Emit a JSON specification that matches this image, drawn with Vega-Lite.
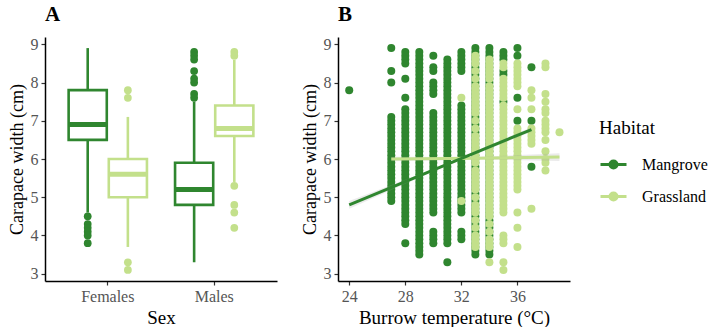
{
"$schema":"https://vega.github.io/schema/vega-lite/v6.json",
"background":"white",
"padding":{"left":8,"top":4,"right":0,"bottom":0},
"spacing":24,
"config":{
"font":"Liberation Serif",
"view":{"stroke":null},
"axis":{"grid":false,"domainColor":"black","domainWidth":1.5,"tickColor":"#333333","tickWidth":1.2,"tickSize":4,"labelFont":"Liberation Serif","labelFontSize":16,"labelColor":"#555555","labelPadding":3,"titleFont":"Liberation Serif","titleFontSize":19,"titleFontWeight":"normal","titleColor":"black","titlePadding":4},
"legend":{"labelFont":"Liberation Serif","titleFont":"Liberation Serif","labelFontSize":16,"titleFontSize":19},
"title":{"font":"Liberation Serif","fontSize":21,"fontWeight":"bold","anchor":"start","frame":"group","color":"black","offset":11}
},
"datasets":{
"boxes":[
{"sex":"Females","habitat":"Mangrove","lo":4.6,"q1":6.5,"median":6.9,"q3":7.8,"hi":8.9},
{"sex":"Females","habitat":"Grassland","lo":3.7,"q1":5.0,"median":5.6,"q3":6.0,"hi":7.1},
{"sex":"Males","habitat":"Mangrove","lo":3.3,"q1":4.8,"median":5.2,"q3":5.9,"hi":7.5},
{"sex":"Males","habitat":"Grassland","lo":5.4,"q1":6.6,"median":6.8,"q3":7.4,"hi":8.6}
],
"outliers":[
{"sex":"Females","habitat":"Mangrove","cw":4.5},{"sex":"Females","habitat":"Mangrove","cw":4.3},{"sex":"Females","habitat":"Mangrove","cw":4.2},{"sex":"Females","habitat":"Mangrove","cw":4.1},{"sex":"Females","habitat":"Mangrove","cw":4.0},{"sex":"Females","habitat":"Mangrove","cw":3.8},
{"sex":"Females","habitat":"Grassland","cw":7.8},{"sex":"Females","habitat":"Grassland","cw":7.6},{"sex":"Females","habitat":"Grassland","cw":3.3},{"sex":"Females","habitat":"Grassland","cw":3.1},
{"sex":"Males","habitat":"Mangrove","cw":8.8},{"sex":"Males","habitat":"Mangrove","cw":8.7},{"sex":"Males","habitat":"Mangrove","cw":8.6},{"sex":"Males","habitat":"Mangrove","cw":8.3},{"sex":"Males","habitat":"Mangrove","cw":8.1},{"sex":"Males","habitat":"Mangrove","cw":8.0},{"sex":"Males","habitat":"Mangrove","cw":7.7},{"sex":"Males","habitat":"Mangrove","cw":7.6},
{"sex":"Males","habitat":"Grassland","cw":8.8},{"sex":"Males","habitat":"Grassland","cw":8.7},{"sex":"Males","habitat":"Grassland","cw":5.3},{"sex":"Males","habitat":"Grassland","cw":4.8},{"sex":"Males","habitat":"Grassland","cw":4.6},{"sex":"Males","habitat":"Grassland","cw":4.2}
],
"fits":[
{"habitat":"Mangrove","temp":24,"fit":4.8,"lo":4.7,"hi":4.9},
{"habitat":"Mangrove","temp":30.5,"fit":5.785,"lo":5.76,"hi":5.81},
{"habitat":"Mangrove","temp":37,"fit":6.77,"lo":6.71,"hi":6.83},
{"habitat":"Grassland","temp":27,"fit":6.0,"lo":5.94,"hi":6.06},
{"habitat":"Grassland","temp":33,"fit":6.02,"lo":5.99,"hi":6.05},
{"habitat":"Grassland","temp":39,"fit":6.05,"lo":5.95,"hi":6.15}
],
"points":[
{"temp":24,"cw":7.8,"habitat":"Mangrove"},
{"temp":27,"cw":8.9,"habitat":"Mangrove"},{"temp":27,"cw":8.3,"habitat":"Mangrove"},{"temp":27,"cw":8.0,"habitat":"Mangrove"},{"temp":27,"cw":7.1,"habitat":"Mangrove"},{"temp":27,"cw":7.0,"habitat":"Mangrove"},{"temp":27,"cw":6.9,"habitat":"Mangrove"},{"temp":27,"cw":6.8,"habitat":"Mangrove"},{"temp":27,"cw":6.7,"habitat":"Mangrove"},{"temp":27,"cw":6.6,"habitat":"Mangrove"},{"temp":27,"cw":6.5,"habitat":"Mangrove"},{"temp":27,"cw":6.4,"habitat":"Mangrove"},{"temp":27,"cw":6.3,"habitat":"Mangrove"},{"temp":27,"cw":6.2,"habitat":"Mangrove"},{"temp":27,"cw":6.1,"habitat":"Mangrove"},{"temp":27,"cw":6.0,"habitat":"Mangrove"},{"temp":27,"cw":5.9,"habitat":"Mangrove"},{"temp":27,"cw":5.8,"habitat":"Mangrove"},{"temp":27,"cw":5.7,"habitat":"Mangrove"},{"temp":27,"cw":5.6,"habitat":"Mangrove"},{"temp":27,"cw":5.5,"habitat":"Mangrove"},{"temp":27,"cw":5.4,"habitat":"Mangrove"},{"temp":27,"cw":5.3,"habitat":"Mangrove"},{"temp":27,"cw":5.2,"habitat":"Mangrove"},{"temp":27,"cw":5.1,"habitat":"Mangrove"},{"temp":27,"cw":5.0,"habitat":"Mangrove"},{"temp":27,"cw":4.9,"habitat":"Mangrove"},
{"temp":28,"cw":8.8,"habitat":"Mangrove"},{"temp":28,"cw":8.7,"habitat":"Mangrove"},{"temp":28,"cw":8.6,"habitat":"Mangrove"},{"temp":28,"cw":8.5,"habitat":"Mangrove"},{"temp":28,"cw":8.1,"habitat":"Mangrove"},{"temp":28,"cw":7.6,"habitat":"Mangrove"},{"temp":28,"cw":7.3,"habitat":"Mangrove"},{"temp":28,"cw":7.2,"habitat":"Mangrove"},{"temp":28,"cw":7.1,"habitat":"Mangrove"},{"temp":28,"cw":7.0,"habitat":"Mangrove"},{"temp":28,"cw":6.9,"habitat":"Mangrove"},{"temp":28,"cw":6.8,"habitat":"Mangrove"},{"temp":28,"cw":6.7,"habitat":"Mangrove"},{"temp":28,"cw":6.6,"habitat":"Mangrove"},{"temp":28,"cw":6.5,"habitat":"Mangrove"},{"temp":28,"cw":6.4,"habitat":"Mangrove"},{"temp":28,"cw":6.3,"habitat":"Mangrove"},{"temp":28,"cw":6.2,"habitat":"Mangrove"},{"temp":28,"cw":6.1,"habitat":"Mangrove"},{"temp":28,"cw":6.0,"habitat":"Mangrove"},{"temp":28,"cw":5.9,"habitat":"Mangrove"},{"temp":28,"cw":5.8,"habitat":"Mangrove"},{"temp":28,"cw":5.7,"habitat":"Mangrove"},{"temp":28,"cw":5.6,"habitat":"Mangrove"},{"temp":28,"cw":5.5,"habitat":"Mangrove"},{"temp":28,"cw":5.4,"habitat":"Mangrove"},{"temp":28,"cw":5.3,"habitat":"Mangrove"},{"temp":28,"cw":5.2,"habitat":"Mangrove"},{"temp":28,"cw":5.1,"habitat":"Mangrove"},{"temp":28,"cw":5.0,"habitat":"Mangrove"},{"temp":28,"cw":4.9,"habitat":"Mangrove"},{"temp":28,"cw":4.8,"habitat":"Mangrove"},{"temp":28,"cw":4.7,"habitat":"Mangrove"},{"temp":28,"cw":4.6,"habitat":"Mangrove"},{"temp":28,"cw":4.5,"habitat":"Mangrove"},{"temp":28,"cw":4.4,"habitat":"Mangrove"},{"temp":28,"cw":4.3,"habitat":"Mangrove"},{"temp":28,"cw":3.8,"habitat":"Mangrove"},
{"temp":29,"cw":8.8,"habitat":"Mangrove"},{"temp":29,"cw":8.7,"habitat":"Mangrove"},{"temp":29,"cw":8.6,"habitat":"Mangrove"},{"temp":29,"cw":8.5,"habitat":"Mangrove"},{"temp":29,"cw":8.4,"habitat":"Mangrove"},{"temp":29,"cw":8.3,"habitat":"Mangrove"},{"temp":29,"cw":8.2,"habitat":"Mangrove"},{"temp":29,"cw":8.1,"habitat":"Mangrove"},{"temp":29,"cw":8.0,"habitat":"Mangrove"},{"temp":29,"cw":7.9,"habitat":"Mangrove"},{"temp":29,"cw":7.8,"habitat":"Mangrove"},{"temp":29,"cw":7.7,"habitat":"Mangrove"},{"temp":29,"cw":7.6,"habitat":"Mangrove"},{"temp":29,"cw":7.5,"habitat":"Mangrove"},{"temp":29,"cw":7.4,"habitat":"Mangrove"},{"temp":29,"cw":7.3,"habitat":"Mangrove"},{"temp":29,"cw":7.2,"habitat":"Mangrove"},{"temp":29,"cw":7.1,"habitat":"Mangrove"},{"temp":29,"cw":7.0,"habitat":"Mangrove"},{"temp":29,"cw":6.9,"habitat":"Mangrove"},{"temp":29,"cw":6.8,"habitat":"Mangrove"},{"temp":29,"cw":6.7,"habitat":"Mangrove"},{"temp":29,"cw":6.6,"habitat":"Mangrove"},{"temp":29,"cw":6.5,"habitat":"Mangrove"},{"temp":29,"cw":6.4,"habitat":"Mangrove"},{"temp":29,"cw":6.3,"habitat":"Mangrove"},{"temp":29,"cw":6.2,"habitat":"Mangrove"},{"temp":29,"cw":6.1,"habitat":"Mangrove"},{"temp":29,"cw":6.0,"habitat":"Mangrove"},{"temp":29,"cw":5.9,"habitat":"Mangrove"},{"temp":29,"cw":5.8,"habitat":"Mangrove"},{"temp":29,"cw":5.7,"habitat":"Mangrove"},{"temp":29,"cw":5.6,"habitat":"Mangrove"},{"temp":29,"cw":5.5,"habitat":"Mangrove"},{"temp":29,"cw":5.4,"habitat":"Mangrove"},{"temp":29,"cw":5.3,"habitat":"Mangrove"},{"temp":29,"cw":5.2,"habitat":"Mangrove"},{"temp":29,"cw":5.1,"habitat":"Mangrove"},{"temp":29,"cw":5.0,"habitat":"Mangrove"},{"temp":29,"cw":4.9,"habitat":"Mangrove"},{"temp":29,"cw":4.8,"habitat":"Mangrove"},{"temp":29,"cw":4.7,"habitat":"Mangrove"},{"temp":29,"cw":4.6,"habitat":"Mangrove"},{"temp":29,"cw":4.5,"habitat":"Mangrove"},{"temp":29,"cw":4.4,"habitat":"Mangrove"},{"temp":29,"cw":4.3,"habitat":"Mangrove"},{"temp":29,"cw":4.2,"habitat":"Mangrove"},{"temp":29,"cw":4.1,"habitat":"Mangrove"},{"temp":29,"cw":4.0,"habitat":"Mangrove"},{"temp":29,"cw":3.9,"habitat":"Mangrove"},{"temp":29,"cw":3.8,"habitat":"Mangrove"},{"temp":29,"cw":3.7,"habitat":"Mangrove"},{"temp":29,"cw":3.6,"habitat":"Mangrove"},{"temp":29,"cw":3.5,"habitat":"Mangrove"},
{"temp":30,"cw":8.7,"habitat":"Mangrove"},{"temp":30,"cw":8.4,"habitat":"Mangrove"},{"temp":30,"cw":8.3,"habitat":"Mangrove"},{"temp":30,"cw":8.0,"habitat":"Mangrove"},{"temp":30,"cw":7.9,"habitat":"Mangrove"},{"temp":30,"cw":7.8,"habitat":"Mangrove"},{"temp":30,"cw":7.7,"habitat":"Mangrove"},{"temp":30,"cw":7.2,"habitat":"Mangrove"},{"temp":30,"cw":7.1,"habitat":"Mangrove"},{"temp":30,"cw":7.0,"habitat":"Mangrove"},{"temp":30,"cw":6.9,"habitat":"Mangrove"},{"temp":30,"cw":6.8,"habitat":"Mangrove"},{"temp":30,"cw":6.7,"habitat":"Mangrove"},{"temp":30,"cw":6.6,"habitat":"Mangrove"},{"temp":30,"cw":6.5,"habitat":"Mangrove"},{"temp":30,"cw":6.4,"habitat":"Mangrove"},{"temp":30,"cw":6.3,"habitat":"Mangrove"},{"temp":30,"cw":6.2,"habitat":"Mangrove"},{"temp":30,"cw":6.1,"habitat":"Mangrove"},{"temp":30,"cw":6.0,"habitat":"Mangrove"},{"temp":30,"cw":5.9,"habitat":"Mangrove"},{"temp":30,"cw":5.8,"habitat":"Mangrove"},{"temp":30,"cw":5.7,"habitat":"Mangrove"},{"temp":30,"cw":5.6,"habitat":"Mangrove"},{"temp":30,"cw":5.5,"habitat":"Mangrove"},{"temp":30,"cw":5.4,"habitat":"Mangrove"},{"temp":30,"cw":5.3,"habitat":"Mangrove"},{"temp":30,"cw":5.2,"habitat":"Mangrove"},{"temp":30,"cw":5.1,"habitat":"Mangrove"},{"temp":30,"cw":5.0,"habitat":"Mangrove"},{"temp":30,"cw":4.9,"habitat":"Mangrove"},{"temp":30,"cw":4.8,"habitat":"Mangrove"},{"temp":30,"cw":4.7,"habitat":"Mangrove"},{"temp":30,"cw":4.6,"habitat":"Mangrove"},{"temp":30,"cw":4.1,"habitat":"Mangrove"},{"temp":30,"cw":4.0,"habitat":"Mangrove"},{"temp":30,"cw":3.9,"habitat":"Mangrove"},{"temp":30,"cw":3.8,"habitat":"Mangrove"},
{"temp":31,"cw":8.6,"habitat":"Mangrove"},{"temp":31,"cw":8.5,"habitat":"Mangrove"},{"temp":31,"cw":8.4,"habitat":"Mangrove"},{"temp":31,"cw":8.3,"habitat":"Mangrove"},{"temp":31,"cw":8.2,"habitat":"Mangrove"},{"temp":31,"cw":8.1,"habitat":"Mangrove"},{"temp":31,"cw":8.0,"habitat":"Mangrove"},{"temp":31,"cw":7.9,"habitat":"Mangrove"},{"temp":31,"cw":7.8,"habitat":"Mangrove"},{"temp":31,"cw":7.7,"habitat":"Mangrove"},{"temp":31,"cw":7.6,"habitat":"Mangrove"},{"temp":31,"cw":7.5,"habitat":"Mangrove"},{"temp":31,"cw":7.4,"habitat":"Mangrove"},{"temp":31,"cw":7.3,"habitat":"Mangrove"},{"temp":31,"cw":7.2,"habitat":"Mangrove"},{"temp":31,"cw":7.1,"habitat":"Mangrove"},{"temp":31,"cw":7.0,"habitat":"Mangrove"},{"temp":31,"cw":6.9,"habitat":"Mangrove"},{"temp":31,"cw":6.8,"habitat":"Mangrove"},{"temp":31,"cw":6.7,"habitat":"Mangrove"},{"temp":31,"cw":6.6,"habitat":"Mangrove"},{"temp":31,"cw":6.5,"habitat":"Mangrove"},{"temp":31,"cw":6.4,"habitat":"Mangrove"},{"temp":31,"cw":6.3,"habitat":"Mangrove"},{"temp":31,"cw":6.2,"habitat":"Mangrove"},{"temp":31,"cw":6.1,"habitat":"Mangrove"},{"temp":31,"cw":6.0,"habitat":"Mangrove"},{"temp":31,"cw":5.9,"habitat":"Mangrove"},{"temp":31,"cw":5.8,"habitat":"Mangrove"},{"temp":31,"cw":5.7,"habitat":"Mangrove"},{"temp":31,"cw":5.6,"habitat":"Mangrove"},{"temp":31,"cw":5.5,"habitat":"Mangrove"},{"temp":31,"cw":5.4,"habitat":"Mangrove"},{"temp":31,"cw":5.3,"habitat":"Mangrove"},{"temp":31,"cw":5.2,"habitat":"Mangrove"},{"temp":31,"cw":5.1,"habitat":"Mangrove"},{"temp":31,"cw":5.0,"habitat":"Mangrove"},{"temp":31,"cw":4.9,"habitat":"Mangrove"},{"temp":31,"cw":4.8,"habitat":"Mangrove"},{"temp":31,"cw":4.7,"habitat":"Mangrove"},{"temp":31,"cw":4.6,"habitat":"Mangrove"},{"temp":31,"cw":4.5,"habitat":"Mangrove"},{"temp":31,"cw":4.4,"habitat":"Mangrove"},{"temp":31,"cw":4.3,"habitat":"Mangrove"},{"temp":31,"cw":4.2,"habitat":"Mangrove"},{"temp":31,"cw":4.1,"habitat":"Mangrove"},{"temp":31,"cw":4.0,"habitat":"Mangrove"},{"temp":31,"cw":3.9,"habitat":"Mangrove"},{"temp":31,"cw":3.8,"habitat":"Mangrove"},{"temp":31,"cw":3.3,"habitat":"Mangrove"},
{"temp":32,"cw":8.8,"habitat":"Mangrove"},{"temp":32,"cw":8.7,"habitat":"Mangrove"},{"temp":32,"cw":8.6,"habitat":"Mangrove"},{"temp":32,"cw":8.5,"habitat":"Mangrove"},{"temp":32,"cw":8.4,"habitat":"Mangrove"},{"temp":32,"cw":8.3,"habitat":"Mangrove"},{"temp":32,"cw":7.4,"habitat":"Mangrove"},{"temp":32,"cw":7.3,"habitat":"Mangrove"},{"temp":32,"cw":7.2,"habitat":"Mangrove"},{"temp":32,"cw":7.1,"habitat":"Mangrove"},{"temp":32,"cw":7.0,"habitat":"Mangrove"},{"temp":32,"cw":6.9,"habitat":"Mangrove"},{"temp":32,"cw":6.8,"habitat":"Mangrove"},{"temp":32,"cw":6.7,"habitat":"Mangrove"},{"temp":32,"cw":6.6,"habitat":"Mangrove"},{"temp":32,"cw":6.5,"habitat":"Mangrove"},{"temp":32,"cw":6.4,"habitat":"Mangrove"},{"temp":32,"cw":6.3,"habitat":"Mangrove"},{"temp":32,"cw":6.2,"habitat":"Mangrove"},{"temp":32,"cw":6.1,"habitat":"Mangrove"},{"temp":32,"cw":6.0,"habitat":"Mangrove"},{"temp":32,"cw":5.9,"habitat":"Mangrove"},{"temp":32,"cw":5.8,"habitat":"Mangrove"},{"temp":32,"cw":5.7,"habitat":"Mangrove"},{"temp":32,"cw":5.6,"habitat":"Mangrove"},{"temp":32,"cw":5.5,"habitat":"Mangrove"},{"temp":32,"cw":5.4,"habitat":"Mangrove"},{"temp":32,"cw":5.3,"habitat":"Mangrove"},{"temp":32,"cw":5.2,"habitat":"Mangrove"},{"temp":32,"cw":5.1,"habitat":"Mangrove"},{"temp":32,"cw":5.0,"habitat":"Mangrove"},{"temp":32,"cw":4.9,"habitat":"Mangrove"},{"temp":32,"cw":4.8,"habitat":"Mangrove"},{"temp":32,"cw":4.7,"habitat":"Mangrove"},{"temp":32,"cw":4.6,"habitat":"Mangrove"},{"temp":32,"cw":4.1,"habitat":"Mangrove"},{"temp":32,"cw":4.0,"habitat":"Mangrove"},{"temp":32,"cw":3.9,"habitat":"Mangrove"},
{"temp":33,"cw":8.9,"habitat":"Mangrove"},{"temp":33,"cw":8.8,"habitat":"Mangrove"},{"temp":33,"cw":8.7,"habitat":"Mangrove"},{"temp":33,"cw":8.6,"habitat":"Mangrove"},{"temp":33,"cw":8.5,"habitat":"Mangrove"},{"temp":33,"cw":8.4,"habitat":"Mangrove"},{"temp":33,"cw":8.3,"habitat":"Mangrove"},{"temp":33,"cw":8.2,"habitat":"Mangrove"},{"temp":33,"cw":8.1,"habitat":"Mangrove"},{"temp":33,"cw":8.0,"habitat":"Mangrove"},{"temp":33,"cw":7.9,"habitat":"Mangrove"},{"temp":33,"cw":7.8,"habitat":"Mangrove"},{"temp":33,"cw":7.7,"habitat":"Mangrove"},{"temp":33,"cw":7.6,"habitat":"Mangrove"},{"temp":33,"cw":7.5,"habitat":"Mangrove"},{"temp":33,"cw":7.4,"habitat":"Mangrove"},{"temp":33,"cw":7.3,"habitat":"Mangrove"},{"temp":33,"cw":7.2,"habitat":"Mangrove"},{"temp":33,"cw":7.1,"habitat":"Mangrove"},{"temp":33,"cw":7.0,"habitat":"Mangrove"},{"temp":33,"cw":6.9,"habitat":"Mangrove"},{"temp":33,"cw":6.8,"habitat":"Mangrove"},{"temp":33,"cw":6.7,"habitat":"Mangrove"},{"temp":33,"cw":6.6,"habitat":"Mangrove"},{"temp":33,"cw":6.5,"habitat":"Mangrove"},{"temp":33,"cw":6.4,"habitat":"Mangrove"},{"temp":33,"cw":6.3,"habitat":"Mangrove"},{"temp":33,"cw":6.2,"habitat":"Mangrove"},{"temp":33,"cw":6.1,"habitat":"Mangrove"},{"temp":33,"cw":6.0,"habitat":"Mangrove"},{"temp":33,"cw":5.9,"habitat":"Mangrove"},{"temp":33,"cw":5.8,"habitat":"Mangrove"},{"temp":33,"cw":5.7,"habitat":"Mangrove"},{"temp":33,"cw":5.6,"habitat":"Mangrove"},{"temp":33,"cw":5.5,"habitat":"Mangrove"},{"temp":33,"cw":5.4,"habitat":"Mangrove"},{"temp":33,"cw":5.3,"habitat":"Mangrove"},{"temp":33,"cw":5.2,"habitat":"Mangrove"},{"temp":33,"cw":5.1,"habitat":"Mangrove"},{"temp":33,"cw":5.0,"habitat":"Mangrove"},{"temp":33,"cw":4.9,"habitat":"Mangrove"},{"temp":33,"cw":4.8,"habitat":"Mangrove"},{"temp":33,"cw":4.7,"habitat":"Mangrove"},{"temp":33,"cw":4.6,"habitat":"Mangrove"},{"temp":33,"cw":4.5,"habitat":"Mangrove"},{"temp":33,"cw":4.4,"habitat":"Mangrove"},{"temp":33,"cw":4.3,"habitat":"Mangrove"},{"temp":33,"cw":4.2,"habitat":"Mangrove"},{"temp":33,"cw":4.1,"habitat":"Mangrove"},{"temp":33,"cw":4.0,"habitat":"Mangrove"},{"temp":33,"cw":3.9,"habitat":"Mangrove"},{"temp":33,"cw":3.8,"habitat":"Mangrove"},{"temp":33,"cw":3.7,"habitat":"Mangrove"},{"temp":33,"cw":3.6,"habitat":"Mangrove"},{"temp":33,"cw":3.5,"habitat":"Mangrove"},
{"temp":34,"cw":8.9,"habitat":"Mangrove"},{"temp":34,"cw":8.8,"habitat":"Mangrove"},{"temp":34,"cw":8.7,"habitat":"Mangrove"},{"temp":34,"cw":8.6,"habitat":"Mangrove"},{"temp":34,"cw":8.5,"habitat":"Mangrove"},{"temp":34,"cw":8.4,"habitat":"Mangrove"},{"temp":34,"cw":8.3,"habitat":"Mangrove"},{"temp":34,"cw":8.2,"habitat":"Mangrove"},{"temp":34,"cw":8.1,"habitat":"Mangrove"},{"temp":34,"cw":8.0,"habitat":"Mangrove"},{"temp":34,"cw":7.9,"habitat":"Mangrove"},{"temp":34,"cw":7.8,"habitat":"Mangrove"},{"temp":34,"cw":7.7,"habitat":"Mangrove"},{"temp":34,"cw":7.6,"habitat":"Mangrove"},{"temp":34,"cw":7.5,"habitat":"Mangrove"},{"temp":34,"cw":7.4,"habitat":"Mangrove"},{"temp":34,"cw":7.3,"habitat":"Mangrove"},{"temp":34,"cw":7.2,"habitat":"Mangrove"},{"temp":34,"cw":7.1,"habitat":"Mangrove"},{"temp":34,"cw":7.0,"habitat":"Mangrove"},{"temp":34,"cw":6.9,"habitat":"Mangrove"},{"temp":34,"cw":6.8,"habitat":"Mangrove"},{"temp":34,"cw":6.7,"habitat":"Mangrove"},{"temp":34,"cw":6.6,"habitat":"Mangrove"},{"temp":34,"cw":6.5,"habitat":"Mangrove"},{"temp":34,"cw":6.4,"habitat":"Mangrove"},{"temp":34,"cw":6.3,"habitat":"Mangrove"},{"temp":34,"cw":6.2,"habitat":"Mangrove"},{"temp":34,"cw":6.1,"habitat":"Mangrove"},{"temp":34,"cw":6.0,"habitat":"Mangrove"},{"temp":34,"cw":5.9,"habitat":"Mangrove"},{"temp":34,"cw":5.8,"habitat":"Mangrove"},{"temp":34,"cw":5.7,"habitat":"Mangrove"},{"temp":34,"cw":5.6,"habitat":"Mangrove"},{"temp":34,"cw":5.5,"habitat":"Mangrove"},{"temp":34,"cw":5.4,"habitat":"Mangrove"},{"temp":34,"cw":5.3,"habitat":"Mangrove"},{"temp":34,"cw":5.2,"habitat":"Mangrove"},{"temp":34,"cw":5.1,"habitat":"Mangrove"},{"temp":34,"cw":5.0,"habitat":"Mangrove"},{"temp":34,"cw":4.9,"habitat":"Mangrove"},{"temp":34,"cw":4.8,"habitat":"Mangrove"},{"temp":34,"cw":4.7,"habitat":"Mangrove"},{"temp":34,"cw":4.6,"habitat":"Mangrove"},{"temp":34,"cw":4.5,"habitat":"Mangrove"},{"temp":34,"cw":4.4,"habitat":"Mangrove"},{"temp":34,"cw":4.3,"habitat":"Mangrove"},{"temp":34,"cw":4.2,"habitat":"Mangrove"},{"temp":34,"cw":4.1,"habitat":"Mangrove"},{"temp":34,"cw":4.0,"habitat":"Mangrove"},{"temp":34,"cw":3.9,"habitat":"Mangrove"},{"temp":34,"cw":3.8,"habitat":"Mangrove"},{"temp":34,"cw":3.7,"habitat":"Mangrove"},{"temp":34,"cw":3.6,"habitat":"Mangrove"},{"temp":34,"cw":3.5,"habitat":"Mangrove"},
{"temp":35,"cw":8.8,"habitat":"Mangrove"},{"temp":35,"cw":8.7,"habitat":"Mangrove"},{"temp":35,"cw":8.6,"habitat":"Mangrove"},{"temp":35,"cw":8.3,"habitat":"Mangrove"},{"temp":35,"cw":8.2,"habitat":"Mangrove"},{"temp":35,"cw":7.5,"habitat":"Mangrove"},
{"temp":36,"cw":8.9,"habitat":"Mangrove"},{"temp":36,"cw":8.7,"habitat":"Mangrove"},{"temp":36,"cw":7.6,"habitat":"Mangrove"},{"temp":36,"cw":7.0,"habitat":"Mangrove"},
{"temp":37,"cw":8.4,"habitat":"Mangrove"},{"temp":37,"cw":7.0,"habitat":"Mangrove"},{"temp":37,"cw":5.8,"habitat":"Mangrove"},
{"temp":32,"cw":7.6,"habitat":"Grassland"},{"temp":32,"cw":4.9,"habitat":"Grassland"},
{"temp":33,"cw":8.7,"habitat":"Grassland"},{"temp":33,"cw":8.6,"habitat":"Grassland"},{"temp":33,"cw":8.5,"habitat":"Grassland"},{"temp":33,"cw":8.3,"habitat":"Grassland"},{"temp":33,"cw":8.1,"habitat":"Grassland"},{"temp":33,"cw":7.9,"habitat":"Grassland"},{"temp":33,"cw":7.8,"habitat":"Grassland"},{"temp":33,"cw":7.7,"habitat":"Grassland"},{"temp":33,"cw":7.6,"habitat":"Grassland"},{"temp":33,"cw":7.5,"habitat":"Grassland"},{"temp":33,"cw":7.4,"habitat":"Grassland"},{"temp":33,"cw":7.3,"habitat":"Grassland"},{"temp":33,"cw":7.2,"habitat":"Grassland"},{"temp":33,"cw":7.0,"habitat":"Grassland"},{"temp":33,"cw":6.8,"habitat":"Grassland"},{"temp":33,"cw":6.6,"habitat":"Grassland"},{"temp":33,"cw":6.5,"habitat":"Grassland"},{"temp":33,"cw":6.4,"habitat":"Grassland"},{"temp":33,"cw":6.3,"habitat":"Grassland"},{"temp":33,"cw":6.2,"habitat":"Grassland"},{"temp":33,"cw":6.1,"habitat":"Grassland"},{"temp":33,"cw":6.0,"habitat":"Grassland"},{"temp":33,"cw":5.9,"habitat":"Grassland"},{"temp":33,"cw":5.7,"habitat":"Grassland"},{"temp":33,"cw":5.6,"habitat":"Grassland"},{"temp":33,"cw":5.5,"habitat":"Grassland"},{"temp":33,"cw":5.4,"habitat":"Grassland"},{"temp":33,"cw":5.3,"habitat":"Grassland"},{"temp":33,"cw":5.2,"habitat":"Grassland"},{"temp":33,"cw":5.0,"habitat":"Grassland"},{"temp":33,"cw":4.8,"habitat":"Grassland"},{"temp":33,"cw":4.7,"habitat":"Grassland"},{"temp":33,"cw":4.6,"habitat":"Grassland"},{"temp":33,"cw":4.4,"habitat":"Grassland"},{"temp":33,"cw":4.2,"habitat":"Grassland"},{"temp":33,"cw":4.0,"habitat":"Grassland"},{"temp":33,"cw":3.9,"habitat":"Grassland"},{"temp":33,"cw":3.8,"habitat":"Grassland"},{"temp":33,"cw":3.7,"habitat":"Grassland"},
{"temp":34,"cw":8.6,"habitat":"Grassland"},{"temp":34,"cw":8.5,"habitat":"Grassland"},{"temp":34,"cw":8.4,"habitat":"Grassland"},{"temp":34,"cw":8.3,"habitat":"Grassland"},{"temp":34,"cw":8.2,"habitat":"Grassland"},{"temp":34,"cw":8.1,"habitat":"Grassland"},{"temp":34,"cw":7.9,"habitat":"Grassland"},{"temp":34,"cw":7.8,"habitat":"Grassland"},{"temp":34,"cw":7.7,"habitat":"Grassland"},{"temp":34,"cw":7.6,"habitat":"Grassland"},{"temp":34,"cw":7.5,"habitat":"Grassland"},{"temp":34,"cw":7.4,"habitat":"Grassland"},{"temp":34,"cw":7.3,"habitat":"Grassland"},{"temp":34,"cw":7.2,"habitat":"Grassland"},{"temp":34,"cw":7.1,"habitat":"Grassland"},{"temp":34,"cw":7.0,"habitat":"Grassland"},{"temp":34,"cw":6.9,"habitat":"Grassland"},{"temp":34,"cw":6.8,"habitat":"Grassland"},{"temp":34,"cw":6.7,"habitat":"Grassland"},{"temp":34,"cw":6.6,"habitat":"Grassland"},{"temp":34,"cw":6.5,"habitat":"Grassland"},{"temp":34,"cw":6.4,"habitat":"Grassland"},{"temp":34,"cw":6.3,"habitat":"Grassland"},{"temp":34,"cw":6.2,"habitat":"Grassland"},{"temp":34,"cw":6.1,"habitat":"Grassland"},{"temp":34,"cw":6.0,"habitat":"Grassland"},{"temp":34,"cw":5.9,"habitat":"Grassland"},{"temp":34,"cw":5.8,"habitat":"Grassland"},{"temp":34,"cw":5.7,"habitat":"Grassland"},{"temp":34,"cw":5.6,"habitat":"Grassland"},{"temp":34,"cw":5.5,"habitat":"Grassland"},{"temp":34,"cw":5.4,"habitat":"Grassland"},{"temp":34,"cw":5.3,"habitat":"Grassland"},{"temp":34,"cw":5.2,"habitat":"Grassland"},{"temp":34,"cw":5.1,"habitat":"Grassland"},{"temp":34,"cw":5.0,"habitat":"Grassland"},{"temp":34,"cw":4.9,"habitat":"Grassland"},{"temp":34,"cw":4.8,"habitat":"Grassland"},{"temp":34,"cw":4.7,"habitat":"Grassland"},{"temp":34,"cw":4.6,"habitat":"Grassland"},{"temp":34,"cw":4.5,"habitat":"Grassland"},{"temp":34,"cw":4.3,"habitat":"Grassland"},{"temp":34,"cw":4.1,"habitat":"Grassland"},{"temp":34,"cw":3.9,"habitat":"Grassland"},{"temp":34,"cw":3.8,"habitat":"Grassland"},{"temp":34,"cw":3.7,"habitat":"Grassland"},{"temp":34,"cw":3.3,"habitat":"Grassland"},
{"temp":35,"cw":8.5,"habitat":"Grassland"},{"temp":35,"cw":8.4,"habitat":"Grassland"},{"temp":35,"cw":8.1,"habitat":"Grassland"},{"temp":35,"cw":8.0,"habitat":"Grassland"},{"temp":35,"cw":7.9,"habitat":"Grassland"},{"temp":35,"cw":7.8,"habitat":"Grassland"},{"temp":35,"cw":7.7,"habitat":"Grassland"},{"temp":35,"cw":7.6,"habitat":"Grassland"},{"temp":35,"cw":7.4,"habitat":"Grassland"},{"temp":35,"cw":7.3,"habitat":"Grassland"},{"temp":35,"cw":7.2,"habitat":"Grassland"},{"temp":35,"cw":7.1,"habitat":"Grassland"},{"temp":35,"cw":7.0,"habitat":"Grassland"},{"temp":35,"cw":6.9,"habitat":"Grassland"},{"temp":35,"cw":6.8,"habitat":"Grassland"},{"temp":35,"cw":6.7,"habitat":"Grassland"},{"temp":35,"cw":6.6,"habitat":"Grassland"},{"temp":35,"cw":6.5,"habitat":"Grassland"},{"temp":35,"cw":6.4,"habitat":"Grassland"},{"temp":35,"cw":6.3,"habitat":"Grassland"},{"temp":35,"cw":6.2,"habitat":"Grassland"},{"temp":35,"cw":6.1,"habitat":"Grassland"},{"temp":35,"cw":6.0,"habitat":"Grassland"},{"temp":35,"cw":5.9,"habitat":"Grassland"},{"temp":35,"cw":5.8,"habitat":"Grassland"},{"temp":35,"cw":5.7,"habitat":"Grassland"},{"temp":35,"cw":5.6,"habitat":"Grassland"},{"temp":35,"cw":5.5,"habitat":"Grassland"},{"temp":35,"cw":5.4,"habitat":"Grassland"},{"temp":35,"cw":5.3,"habitat":"Grassland"},{"temp":35,"cw":5.2,"habitat":"Grassland"},{"temp":35,"cw":5.1,"habitat":"Grassland"},{"temp":35,"cw":5.0,"habitat":"Grassland"},{"temp":35,"cw":4.9,"habitat":"Grassland"},{"temp":35,"cw":4.8,"habitat":"Grassland"},{"temp":35,"cw":4.7,"habitat":"Grassland"},{"temp":35,"cw":4.6,"habitat":"Grassland"},{"temp":35,"cw":4.0,"habitat":"Grassland"},{"temp":35,"cw":3.9,"habitat":"Grassland"},{"temp":35,"cw":3.8,"habitat":"Grassland"},{"temp":35,"cw":3.3,"habitat":"Grassland"},{"temp":35,"cw":3.1,"habitat":"Grassland"},
{"temp":36,"cw":8.5,"habitat":"Grassland"},{"temp":36,"cw":8.4,"habitat":"Grassland"},{"temp":36,"cw":8.3,"habitat":"Grassland"},{"temp":36,"cw":8.2,"habitat":"Grassland"},{"temp":36,"cw":8.1,"habitat":"Grassland"},{"temp":36,"cw":8.0,"habitat":"Grassland"},{"temp":36,"cw":7.9,"habitat":"Grassland"},{"temp":36,"cw":7.3,"habitat":"Grassland"},{"temp":36,"cw":6.8,"habitat":"Grassland"},{"temp":36,"cw":6.7,"habitat":"Grassland"},{"temp":36,"cw":6.6,"habitat":"Grassland"},{"temp":36,"cw":6.5,"habitat":"Grassland"},{"temp":36,"cw":6.4,"habitat":"Grassland"},{"temp":36,"cw":6.3,"habitat":"Grassland"},{"temp":36,"cw":6.2,"habitat":"Grassland"},{"temp":36,"cw":6.1,"habitat":"Grassland"},{"temp":36,"cw":6.0,"habitat":"Grassland"},{"temp":36,"cw":5.9,"habitat":"Grassland"},{"temp":36,"cw":5.8,"habitat":"Grassland"},{"temp":36,"cw":5.7,"habitat":"Grassland"},{"temp":36,"cw":5.6,"habitat":"Grassland"},{"temp":36,"cw":5.5,"habitat":"Grassland"},{"temp":36,"cw":5.4,"habitat":"Grassland"},{"temp":36,"cw":5.3,"habitat":"Grassland"},{"temp":36,"cw":5.2,"habitat":"Grassland"},{"temp":36,"cw":4.6,"habitat":"Grassland"},{"temp":36,"cw":4.2,"habitat":"Grassland"},{"temp":36,"cw":3.7,"habitat":"Grassland"},
{"temp":37,"cw":7.8,"habitat":"Grassland"},{"temp":37,"cw":7.6,"habitat":"Grassland"},{"temp":37,"cw":7.3,"habitat":"Grassland"},{"temp":37,"cw":6.8,"habitat":"Grassland"},{"temp":37,"cw":6.7,"habitat":"Grassland"},{"temp":37,"cw":6.6,"habitat":"Grassland"},{"temp":37,"cw":6.5,"habitat":"Grassland"},{"temp":37,"cw":6.4,"habitat":"Grassland"},{"temp":37,"cw":4.7,"habitat":"Grassland"},
{"temp":38,"cw":8.5,"habitat":"Grassland"},{"temp":38,"cw":8.4,"habitat":"Grassland"},{"temp":38,"cw":7.7,"habitat":"Grassland"},{"temp":38,"cw":7.5,"habitat":"Grassland"},{"temp":38,"cw":7.3,"habitat":"Grassland"},{"temp":38,"cw":7.2,"habitat":"Grassland"},{"temp":38,"cw":7.0,"habitat":"Grassland"},{"temp":38,"cw":6.9,"habitat":"Grassland"},{"temp":38,"cw":6.8,"habitat":"Grassland"},{"temp":38,"cw":6.7,"habitat":"Grassland"},{"temp":38,"cw":6.5,"habitat":"Grassland"},{"temp":38,"cw":6.2,"habitat":"Grassland"},{"temp":38,"cw":6.0,"habitat":"Grassland"},{"temp":38,"cw":5.9,"habitat":"Grassland"},{"temp":38,"cw":5.7,"habitat":"Grassland"},
{"temp":39,"cw":6.7,"habitat":"Grassland"}
]
},
"hconcat":[
{
"width":232,"height":244,
"title":{"text":"A"},
"encoding":{
"x":{"field":"sex","type":"nominal","scale":{"paddingInner":0,"paddingOuter":0.09},"axis":{"labelAngle":0,"title":"Sex","ticks":true}},
"xOffset":{"field":"habitat","type":"nominal","sort":["Mangrove","Grassland"],"scale":{"paddingInner":0.05,"paddingOuter":0.35}}
},
"layer":[
{"data":{"name":"boxes"},"mark":{"type":"rule","strokeWidth":2.6},
"encoding":{"y":{"field":"lo","type":"quantitative","scale":{"domain":[2.81,9.19],"nice":false,"zero":false},"axis":{"values":[3,4,5,6,7,8,9],"title":"Carapace width (cm)","titleFontSize":18}},"y2":{"field":"hi"},
"color":{"field":"habitat","type":"nominal","scale":{"domain":["Mangrove","Grassland"],"range":["#2f862f","#c3e08b"]},"legend":null}}},
{"data":{"name":"boxes"},"mark":{"type":"bar","fill":"white","strokeWidth":2.6,"width":{"band":1}},
"encoding":{"y":{"field":"q1","type":"quantitative"},"y2":{"field":"q3"},
"stroke":{"field":"habitat","type":"nominal","scale":{"domain":["Mangrove","Grassland"],"range":["#2f862f","#c3e08b"]},"legend":null}}},
{"data":{"name":"boxes"},"mark":{"type":"tick","thickness":5,"size":38,"opacity":1},
"encoding":{"y":{"field":"median","type":"quantitative"},
"color":{"field":"habitat","type":"nominal","legend":null}}},
{"data":{"name":"outliers"},"mark":{"type":"point","filled":true,"size":60,"opacity":1},
"encoding":{"y":{"field":"cw","type":"quantitative"},
"color":{"field":"habitat","type":"nominal","legend":null}}}
]
},
{
"width":232,"height":244,
"title":{"text":"B"},
"layer":[
{"data":{"name":"points"},"mark":{"type":"point","filled":true,"size":64,"opacity":1},
"encoding":{
"x":{"field":"temp","type":"quantitative","scale":{"domain":[23.2,39.75],"nice":false,"zero":false},"axis":{"values":[24,28,32,36],"title":"Burrow temperature (°C)"}},
"y":{"field":"cw","type":"quantitative","scale":{"domain":[2.81,9.19],"nice":false,"zero":false},"axis":{"values":[3,4,5,6,7,8,9],"title":"Carapace width (cm)","titleFontSize":18}},
"color":{"field":"habitat","type":"nominal","scale":{"domain":["Mangrove","Grassland"],"range":["#2f862f","#c3e08b"]},
"legend":{"title":"Habitat","orient":"none","legendX":261,"legendY":82,"titleFontSize":19,"titleFont":"Liberation Serif","titleFontWeight":"normal","titleColor":"black","titlePadding":12,"labelFontSize":16,"labelFont":"Liberation Serif","labelColor":"black","labelOffset":14,"symbolType":"M-1,0H1M-0.27,0A0.27,0.27,0,1,0,0.27,0A0.27,0.27,0,1,0,-0.27,0Z","symbolSize":676,"symbolStrokeWidth":3,"rowPadding":7,
"encode":{"labels":{"update":{"font":{"value":"Liberation Serif"},"fontSize":{"value":16}}},"symbols":{"update":{"fill":{"scale":"color","field":"value"},"stroke":{"scale":"color","field":"value"},"opacity":{"value":1}}}}}}
}},
{"data":{"name":"fits"},"mark":{"type":"area","color":"#999999","opacity":0.2},
"encoding":{"x":{"field":"temp","type":"quantitative"},"y":{"field":"lo","type":"quantitative"},"y2":{"field":"hi"},"detail":{"field":"habitat"}}},
{"data":{"name":"fits"},"transform":[{"filter":"datum.habitat === 'Grassland'"}],"mark":{"type":"line","strokeWidth":3},
"encoding":{"x":{"field":"temp","type":"quantitative"},"y":{"field":"fit","type":"quantitative"},"color":{"field":"habitat","type":"nominal"}}},
{"data":{"name":"fits"},"transform":[{"filter":"datum.habitat === 'Mangrove'"}],"mark":{"type":"line","strokeWidth":3},
"encoding":{"x":{"field":"temp","type":"quantitative"},"y":{"field":"fit","type":"quantitative"},"color":{"field":"habitat","type":"nominal"}}}
]
}
],
"resolve":{"scale":{"color":"shared"},"legend":{"color":"independent"}}
}
